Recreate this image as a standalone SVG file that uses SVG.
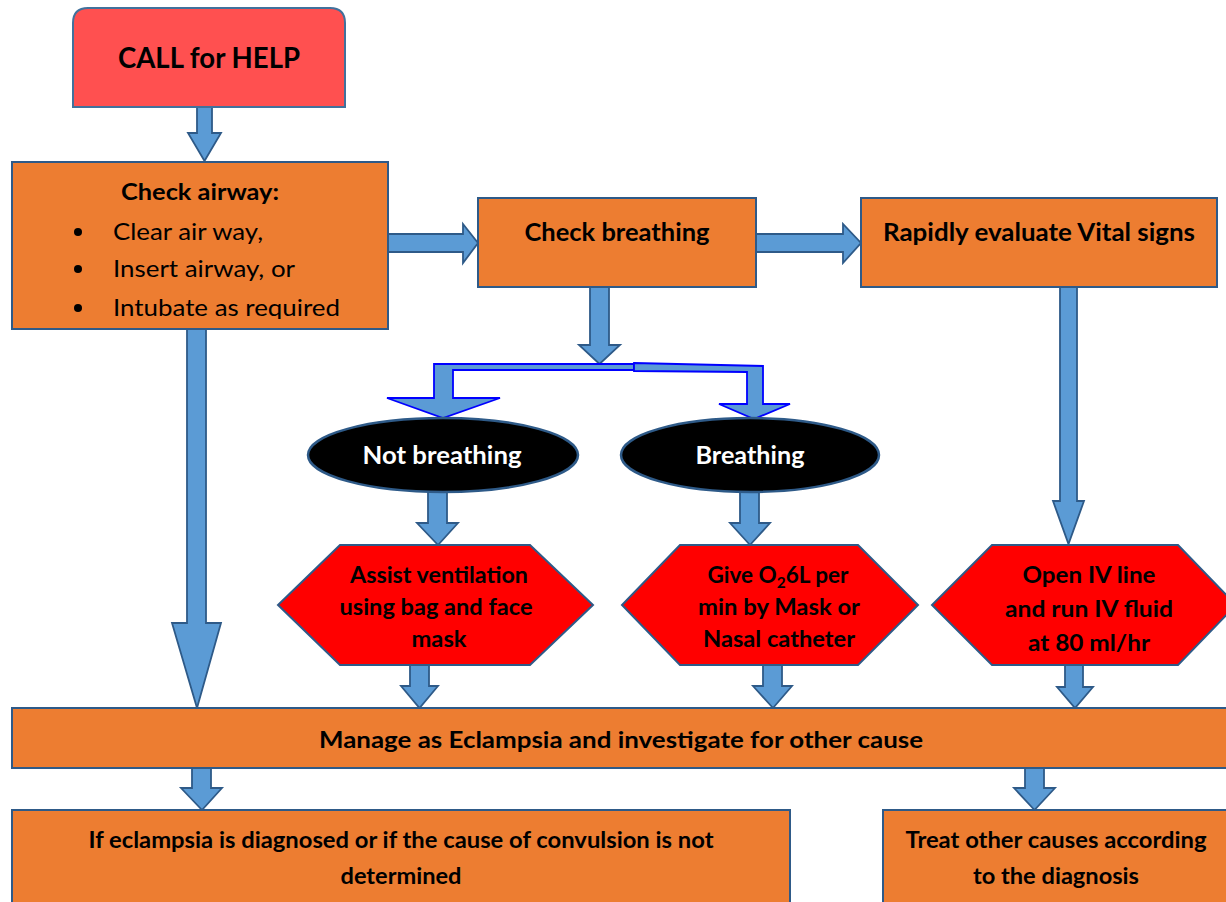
<svg xmlns="http://www.w3.org/2000/svg" width="1226" height="902" viewBox="0 0 1226 902">
<style>
.box{fill:#ED7D31;stroke:#2E5A88;stroke-width:2}
.hex{fill:#FF0000;stroke:#2E5A88;stroke-width:2}
.ell{fill:#000000;stroke:#2E5A88;stroke-width:2.5}
.arr{fill:#5B9BD5;stroke:#2E5A88;stroke-width:1.8;stroke-linejoin:miter}
.barr{fill:#5B9BD5;stroke:#0000FF;stroke-width:1.8}
text{font-family:Lato,"Liberation Sans",sans-serif;font-weight:bold;fill:#000;text-anchor:middle}
.reg{font-weight:normal;text-anchor:start}
.w{fill:#FFFFFF}
</style>
<defs>
<clipPath id="clipAir"><rect x="12" y="162" width="376" height="157"/></clipPath>
</defs>
<g id="connectors">
<polygon class="arr" points="197,107 212,107 212,133 221,133 204.5,161 188,133 197,133"/>
<polygon class="arr" points="388,234 463,234 463,224 478,243 463,263 463,252 388,252"/>
<polygon class="arr" points="756,234 843,234 843,224 861,243 843,263 843,252 756,252"/>
<polygon class="arr" points="590,287 609,287 609,345 620,345 599.5,364 579,345 590,345"/>
<polygon class="barr" points="634,364 434,364 434,398 387,398 443,418 500,398 453,398 453,370 634,370"/>
<polygon class="barr" points="634,363 763,366 763,404 790,404 754,419 719,404 747,404 747,372 634,371"/>
<polygon class="arr" points="187,329 206,329 206,623 221,623 197,708 172,623 187,623"/>
<polygon class="arr" points="1060,287 1077,287 1077,501 1084,501 1068.5,544 1053,501 1060,501"/>
<polygon class="arr" points="428,492 447,492 447,523 458,523 438,545 417,523 428,523"/>
<polygon class="arr" points="740,492 759,492 759,523 770,523 750,545 730,523 740,523"/>
<polygon class="arr" points="410,665 429,665 429,686 438,686 419.5,708 401,686 410,686"/>
<polygon class="arr" points="763,665 782,665 782,686 792,686 773,708 753,686 763,686"/>
<polygon class="arr" points="1065,665 1083,665 1083,687 1093,687 1075,708 1057,687 1065,687"/>
<polygon class="arr" points="192,768 211,768 211,788 222,788 202,810 181,788 192,788"/>
<polygon class="arr" points="1025,768 1044,768 1044,788 1055,788 1034.5,810 1014,788 1025,788"/>
</g>
<g id="call-help">
<path d="M73,107 L73,23 Q73,8 88,8 L330,8 Q345,8 345,23 L345,107 Z" fill="#FF5050" stroke="#41719C" stroke-width="2"/>
<text x="209" y="68" font-size="29" textLength="182" lengthAdjust="spacingAndGlyphs">CALL for HELP</text>
</g>
<g id="check-airway">
<rect class="box" x="12" y="162" width="376" height="167"/>
<text x="200" y="200" font-size="23" textLength="158" lengthAdjust="spacingAndGlyphs">Check airway:</text>
<circle cx="78" cy="232" r="4"/>
<circle cx="78" cy="269" r="4"/>
<circle cx="78" cy="308" r="4"/>
<text class="reg" x="113" y="240" font-size="24" textLength="150" lengthAdjust="spacingAndGlyphs">Clear air way,</text>
<text class="reg" x="113" y="277" font-size="24" textLength="182" lengthAdjust="spacingAndGlyphs">Insert airway, or</text>
<text class="reg" x="113" y="316" font-size="24" textLength="227" lengthAdjust="spacingAndGlyphs" clip-path="url(#clipAir)">Intubate as required</text>
</g>
<g id="check-breathing">
<rect class="box" x="478" y="198" width="278" height="89"/>
<text x="617" y="241" font-size="24" textLength="185" lengthAdjust="spacingAndGlyphs">Check breathing</text>
</g>
<g id="vital-signs">
<rect class="box" x="861" y="198" width="356" height="89"/>
<text x="1039" y="241" font-size="24" textLength="312" lengthAdjust="spacingAndGlyphs">Rapidly evaluate Vital signs</text>
</g>
<g id="not-breathing">
<ellipse class="ell" cx="443" cy="455" rx="135" ry="37"/>
<text class="w" x="442" y="464" font-size="24" textLength="159" lengthAdjust="spacingAndGlyphs">Not breathing</text>
</g>
<g id="breathing">
<ellipse class="ell" cx="750" cy="455" rx="129" ry="37"/>
<text class="w" x="750" y="464" font-size="24" textLength="109" lengthAdjust="spacingAndGlyphs">Breathing</text>
</g>
<g id="assist-ventilation">
<polygon class="hex" points="340,545 530,545 593,605 530,665 340,665 278,605"/>
<text x="439" y="583" font-size="22" textLength="178" lengthAdjust="spacingAndGlyphs">Assist ventilation</text>
<text x="436" y="615" font-size="22" textLength="193" lengthAdjust="spacingAndGlyphs">using bag and face</text>
<text x="439" y="647" font-size="22" textLength="55" lengthAdjust="spacingAndGlyphs">mask</text>
</g>
<g id="give-oxygen">
<polygon class="hex" points="680,545 858,545 918,605 858,665 680,665 622,605"/>
<text x="778" y="583" font-size="22" textLength="141" lengthAdjust="spacingAndGlyphs">Give O<tspan font-size="15" dy="5">2</tspan><tspan dy="-5">6L per</tspan></text>
<text x="779" y="615" font-size="22" textLength="162" lengthAdjust="spacingAndGlyphs">min by Mask or</text>
<text x="779" y="647" font-size="22" textLength="152" lengthAdjust="spacingAndGlyphs">Nasal catheter</text>
</g>
<g id="open-iv">
<polygon class="hex" points="992,545 1178,545 1236,605 1178,665 992,665 932,605"/>
<text x="1089" y="583" font-size="23" textLength="133" lengthAdjust="spacingAndGlyphs">Open IV line</text>
<text x="1089" y="617" font-size="23" textLength="168" lengthAdjust="spacingAndGlyphs">and run IV fluid</text>
<text x="1089" y="651" font-size="23" textLength="122" lengthAdjust="spacingAndGlyphs">at 80 ml/hr</text>
</g>
<g id="manage-eclampsia">
<rect class="box" x="12" y="708" width="1220" height="60"/>
<text x="621" y="748" font-size="23" textLength="604" lengthAdjust="spacingAndGlyphs">Manage as Eclampsia and investigate for other cause</text>
</g>
<g id="eclampsia-diagnosed">
<rect class="box" x="12" y="810" width="778" height="100"/>
<text x="401" y="848" font-size="23" textLength="625" lengthAdjust="spacingAndGlyphs">If eclampsia is diagnosed or if the cause of convulsion is not</text>
<text x="401" y="884" font-size="23" textLength="121" lengthAdjust="spacingAndGlyphs">determined</text>
</g>
<g id="treat-other">
<rect class="box" x="883" y="810" width="349" height="100"/>
<text x="1056" y="848" font-size="23" textLength="301" lengthAdjust="spacingAndGlyphs">Treat other causes according</text>
<text x="1056" y="884" font-size="23" textLength="166" lengthAdjust="spacingAndGlyphs">to the diagnosis</text>
</g>
</svg>
